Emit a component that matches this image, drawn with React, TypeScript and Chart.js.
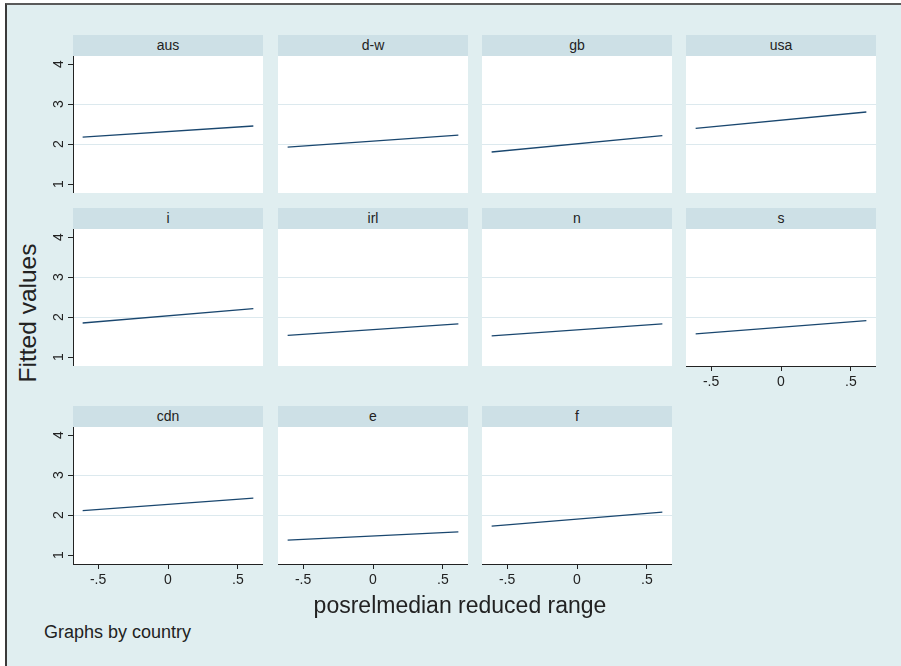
import React, { useEffect, useRef } from 'react';
import { Chart, registerables } from 'chart.js';

Chart.register(...registerables);

// Fitted regression lines, one small panel per country
const countries = ['aus', 'd-w', 'gb', 'usa', 'i', 'irl', 'n', 's', 'cdn', 'e', 'f'];
const xEnds = [-0.61, 0.61];
const fittedAtLow = [2.17, 1.92, 1.8, 2.39, 1.85, 1.54, 1.53, 1.58, 2.11, 1.37, 1.72];
const fittedAtHigh = [2.45, 2.22, 2.21, 2.8, 2.21, 1.83, 1.83, 1.91, 2.42, 1.58, 2.07];
const yTickValues = [1, 2, 3, 4];
const xTickValues = [-0.5, 0, 0.5];
const yTitle = 'Fitted values';
const xTitle = 'posrelmedian reduced range';
const noteText = 'Graphs by country';

const FONT = '"Liberation Sans", Arial, Helvetica, sans-serif';
const BG = '#E0EEF0';
const STRIP = '#CDE0E6';
const LINE = '#1A476F';
const GRID = '#DCE9EE';
const AXIS = '#222';
const TEXT = '#222';

const COL_LEFT = [73, 278, 482, 686];
const ROW_TOP = [35, 208, 406];
const PANEL_W = 190;
const STRIP_H = 21;
const PLOT_H = 137;
const Y_AXIS_W = 30;
const X_AXIS_H = 30;
const Y_MIN = 0.775;
const Y_MAX = 4.2;
const X_MIN = -0.679;
const X_MAX = 0.679;

const fmtTick = (v: number) => {
  if (v === 0) return '0';
  const s = String(Math.abs(v)).replace(/^0/, '');
  return (v < 0 ? '-' : '') + s;
};

const zeroPadding = (s: any) => {
  s.paddingLeft = 0;
  s.paddingRight = 0;
  s.paddingTop = 0;
  s.paddingBottom = 0;
};

const whitePlot = {
  id: 'whitePlot',
  beforeDraw(chart: any) {
    const { ctx, chartArea } = chart;
    ctx.save();
    ctx.fillStyle = '#ffffff';
    ctx.fillRect(chartArea.left, chartArea.top, chartArea.right - chartArea.left, chartArea.bottom - chartArea.top);
    ctx.restore();
  },
};

function Panel({ index }: { index: number }) {
  const ref = useRef<HTMLCanvasElement | null>(null);
  const row = Math.floor(index / 4);
  const col = index % 4;
  const hasY = col === 0;
  const hasX = index + 4 >= countries.length;
  const left = COL_LEFT[col] - (hasY ? Y_AXIS_W : 0);
  const top = ROW_TOP[row] + STRIP_H;
  const width = PANEL_W + (hasY ? Y_AXIS_W : 0);
  const height = PLOT_H + (hasX ? X_AXIS_H : 0);

  useEffect(() => {
    if (!ref.current) return;
    const chart = new Chart(ref.current, {
      type: 'line',
      data: {
        datasets: [
          {
            data: [
              { x: xEnds[0], y: fittedAtLow[index] },
              { x: xEnds[1], y: fittedAtHigh[index] },
            ],
            borderColor: LINE,
            borderWidth: 1.3,
            pointRadius: 0,
            pointHoverRadius: 0,
            fill: false,
            tension: 0,
          },
        ],
      },
      options: {
        animation: false,
        responsive: false,
        maintainAspectRatio: false,
        devicePixelRatio: 1,
        events: [],
        layout: { padding: 0, autoPadding: false },
        plugins: {
          legend: { display: false },
          tooltip: { enabled: false },
          title: { display: false },
        },
        scales: {
          x: {
            type: 'linear',
            min: X_MIN,
            max: X_MAX,
            display: hasX,
            afterBuildTicks: (s: any) => {
              s.ticks = xTickValues.map((v) => ({ value: v }));
            },
            afterFit: (s: any) => {
              s.height = hasX ? X_AXIS_H : 0;
              zeroPadding(s);
            },
            grid: {
              drawOnChartArea: false,
              drawTicks: true,
              tickLength: 5,
              tickColor: AXIS,
              tickWidth: 1,
            },
            border: { display: true, color: AXIS, width: 1 },
            ticks: {
              padding: 3,
              color: TEXT,
              font: { size: 14, family: FONT },
              maxRotation: 0,
              minRotation: 0,
              autoSkip: false,
              callback: (v: any) => fmtTick(Number(v)),
            },
          },
          y: {
            type: 'linear',
            min: Y_MIN,
            max: Y_MAX,
            display: true,
            afterBuildTicks: (s: any) => {
              s.ticks = yTickValues.map((v) => ({ value: v }));
            },
            afterFit: (s: any) => {
              s.width = hasY ? Y_AXIS_W : 0;
              zeroPadding(s);
            },
            grid: {
              drawOnChartArea: true,
              drawTicks: hasY,
              tickLength: 5,
              tickColor: AXIS,
              tickWidth: 1,
              lineWidth: 1,
              color: (ctx: any) =>
                ctx.tick && ctx.tick.value > yTickValues[0] && ctx.tick.value < yTickValues[yTickValues.length - 1]
                  ? GRID
                  : 'rgba(0,0,0,0)',
            },
            border: { display: hasY, color: AXIS, width: 1 },
            ticks: {
              display: hasY,
              padding: 5,
              color: TEXT,
              font: { size: 14, family: FONT },
              minRotation: 90,
              maxRotation: 90,
              crossAlign: 'center',
              autoSkip: false,
              callback: (v: any) => fmtTick(Number(v)),
            },
          },
        },
      } as any,
      plugins: [whitePlot],
    });
    return () => chart.destroy();
  }, [index]);

  return (
    <>
      <div
        style={{
          position: 'absolute',
          left: COL_LEFT[col],
          top: ROW_TOP[row],
          width: PANEL_W,
          height: STRIP_H,
          background: STRIP,
          color: TEXT,
          font: `14px ${FONT}`,
          lineHeight: `${STRIP_H}px`,
          textAlign: 'center',
        }}
      >
        {countries[index]}
      </div>
      <canvas
        ref={ref}
        width={width}
        height={height}
        style={{ position: 'absolute', left, top, width, height }}
      />
    </>
  );
}

export default function App() {
  return (
    <div
      style={{
        position: 'fixed',
        left: 0,
        top: 0,
        width: 901,
        height: 666,
        background: '#ffffff',
        overflow: 'hidden',
      }}
    >
      <div
        style={{
          position: 'absolute',
          left: 5,
          top: 3,
          right: 0,
          bottom: 0,
          background: BG,
          borderTop: '2px solid #5a5a5a',
          borderLeft: '2px solid #3a3a3a',
        }}
      />
      {countries.map((_, i) => (
        <Panel key={i} index={i} />
      ))}
      <div
        style={{
          position: 'absolute',
          left: 28,
          top: 313,
          transform: 'translate(-50%, -50%) rotate(-90deg)',
          font: `24.5px ${FONT}`,
          lineHeight: 1,
          color: TEXT,
          whiteSpace: 'nowrap',
        }}
      >
        {yTitle}
      </div>
      <div
        style={{
          position: 'absolute',
          left: 460,
          top: 594,
          transform: 'translateX(-50%)',
          font: `23px ${FONT}`,
          lineHeight: 1,
          color: TEXT,
          whiteSpace: 'nowrap',
        }}
      >
        {xTitle}
      </div>
      <div
        style={{
          position: 'absolute',
          left: 44,
          top: 623,
          font: `18px ${FONT}`,
          lineHeight: 1,
          color: TEXT,
          whiteSpace: 'nowrap',
        }}
      >
        {noteText}
      </div>
    </div>
  );
}
